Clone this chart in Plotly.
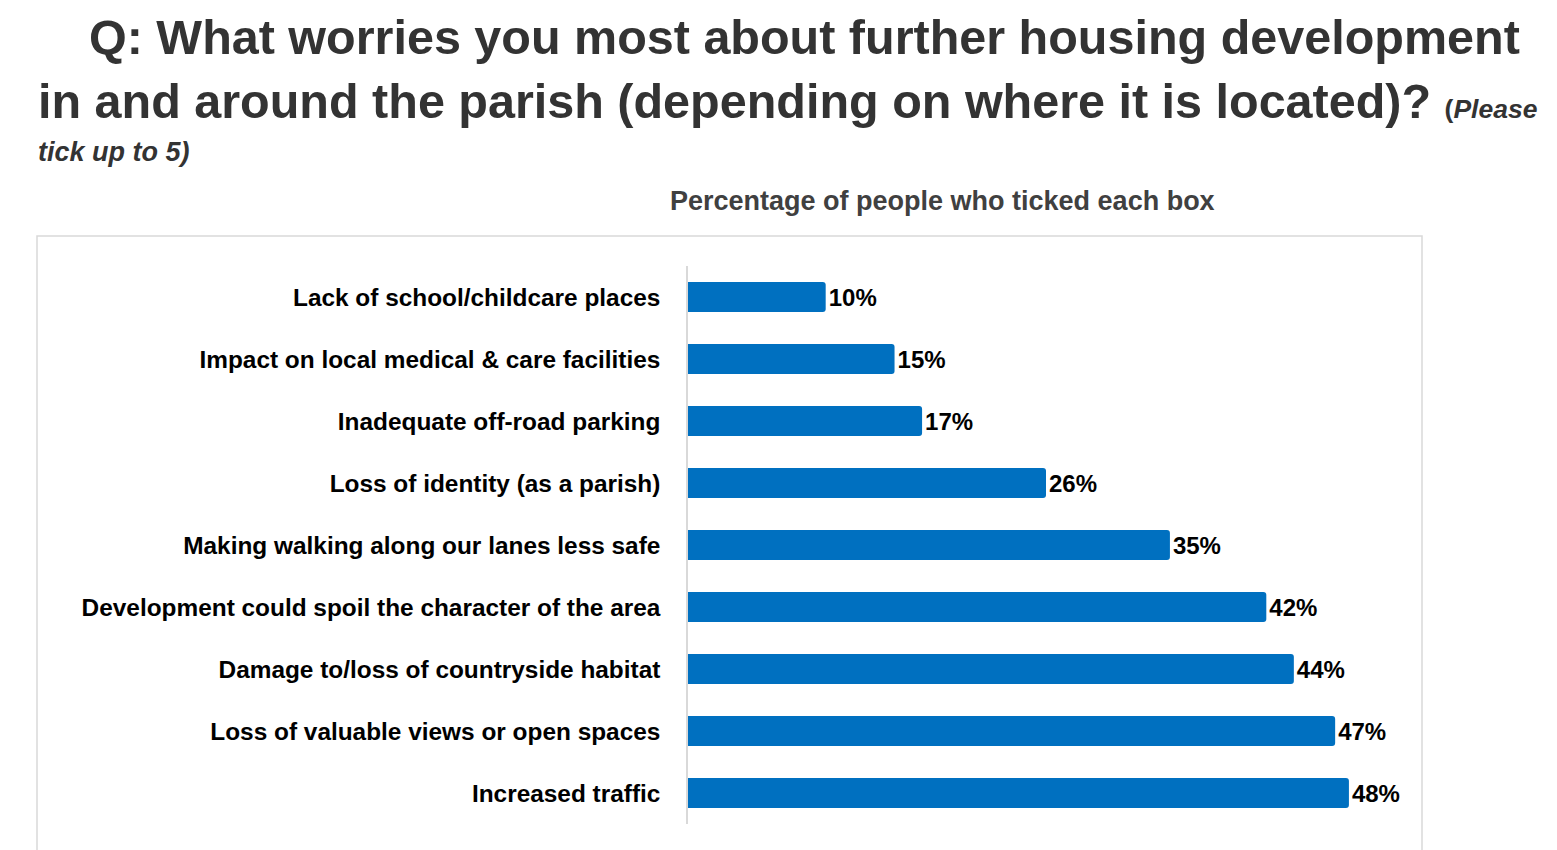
import plotly.graph_objects as go

categories = [
    "Lack of school/childcare places",
    "Impact on local medical & care facilities",
    "Inadequate off-road parking",
    "Loss of identity (as a parish)",
    "Making walking along our lanes less safe",
    "Development could spoil the character of the area",
    "Damage to/loss of countryside habitat",
    "Loss of valuable views or open spaces",
    "Increased traffic",
]
values = [10, 15, 17, 26, 35, 42, 44, 47, 48]
value_labels = ["10%", "15%", "17%", "26%", "35%", "42%", "44%", "47%", "48%"]

title_line1 = "Q: What worries you most about further housing development"
title_line2 = "in and around the parish (depending on where it is located)?"
title_note_a = "Please"
title_note_b = "tick up to 5)"
subtitle = "Percentage of people who ticked each box"

FONT = "Liberation Sans, Arial, sans-serif"
W, H = 1557, 850
OFF = 8  # page body margin
L, R, T, B = 680, 161, 258, 34
pw, ph = W - L - R, H - T - B

def px(sx):
    return (sx - OFF - L) / pw

def py(sy):
    return (H - B - (sy - OFF)) / ph

fig = go.Figure(go.Bar(
    y=categories,
    x=values,
    orientation="h",
    marker=dict(color="#0070C0", cornerradius=3, line=dict(width=0)),
    text=value_labels,
    textposition="outside",
    textfont=dict(family=FONT, size=24, color="#000000", weight="bold"),
    cliponaxis=False,
    hoverinfo="skip",
))

fig.update_layout(
    width=W, height=H,
    margin=dict(l=L, r=R, t=T, b=B),
    paper_bgcolor="white",
    plot_bgcolor="white",
    bargap=0.52,
    showlegend=False,
    font=dict(family=FONT),
    xaxis=dict(range=[0, 52], showgrid=False, zeroline=False, showticklabels=False,
               showline=False, fixedrange=True),
    yaxis=dict(autorange="reversed", showgrid=False, zeroline=False,
               showline=True, linecolor="#d9d9d9", linewidth=1.5,
               ticks="", ticklabelstandoff=21,
               tickfont=dict(family=FONT, size=24.4, color="#000000", weight="bold")),
    shapes=[dict(type="rect", xref="paper", yref="paper",
                 x0=px(37), x1=px(1422), y0=py(236), y1=py(880),
                 line=dict(color="#d9d9d9", width=1.5), fillcolor="rgba(0,0,0,0)",
                 layer="below")],
    annotations=[
        dict(text="<b>" + title_line1 + "</b>", xref="paper", yref="paper",
             x=px(87), y=py(37), xanchor="left", yanchor="middle", showarrow=False,
             font=dict(family=FONT, size=48.5, color="#333333")),
        dict(text="<b>" + title_line2 + "</b> <b><span style='font-size:26.5px'>(<i>" + title_note_a + "</i></span></b>",
             xref="paper", yref="paper",
             x=px(36), y=py(101), xanchor="left", yanchor="middle", showarrow=False,
             font=dict(family=FONT, size=48.5, color="#333333")),
        dict(text="<b><i>" + title_note_b + "</i></b>", xref="paper", yref="paper",
             x=px(36), y=py(152), xanchor="left", yanchor="middle", showarrow=False,
             font=dict(family=FONT, size=27, color="#333333")),
        dict(text="<b>" + subtitle + "</b>", xref="paper", yref="paper",
             x=px(942), y=py(201), xanchor="center", yanchor="middle", showarrow=False,
             font=dict(family=FONT, size=27, color="#404040")),
    ],
)

fig.write_html("out.html")
